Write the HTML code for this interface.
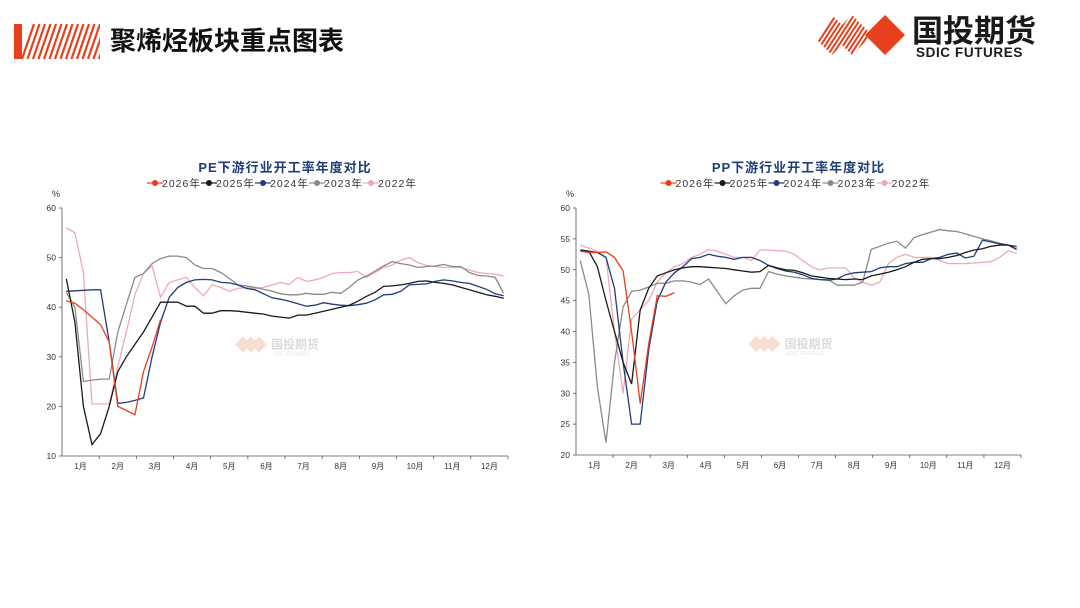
<!DOCTYPE html>
<html><head><meta charset="utf-8"><style>
body{margin:0;width:1080px;height:608px;background:#fff;overflow:hidden;font-family:"Liberation Sans","Noto Sans CJK SC",sans-serif}
svg{position:absolute;left:0;top:0}
</style></head><body>
<svg width="1080" height="608">
<defs>
<clipPath id="lc"><rect x="14" y="24" width="86" height="35"/></clipPath>
<clipPath id="dc"><polygon points="812,35 832,15 852,35 832,55"/><polygon points="832,35 852,15 872,35 852,55"/></clipPath>
</defs>
<g clip-path="url(#lc)">
<rect x="14" y="24" width="8" height="35" fill="#e8401c"/>
<g stroke="#e8401c" stroke-width="2.2" id="stripes"></g>
</g>
<text x="110" y="50" font-size="26" font-weight="bold" fill="#111" font-family="Liberation Sans,Noto Sans CJK SC,sans-serif">聚烯烃板块重点图表</text>
<g>
<g clip-path="url(#dc)" stroke="#e8401c" stroke-width="2" id="dstripes"></g>
<polygon points="885,15 905,35 885,55 865,35" fill="#e8401c"/>
<text x="912" y="42" font-size="31" font-weight="bold" fill="#1a1a1a" font-family="Liberation Sans,Noto Sans CJK SC,sans-serif">国投期货</text>
<text x="916" y="57" font-size="13.5" font-weight="bold" fill="#1a1a1a" letter-spacing="0.6">SDIC FUTURES</text>
</g>
<g id="c1"></g>
<g id="c2"></g>
</svg>
<script>
const NS='http://www.w3.org/2000/svg';
function mk(tag,attrs,parent){const e=document.createElementNS(NS,tag);for(const k in attrs)e.setAttribute(k,attrs[k]);parent.appendChild(e);return e;}
// stripes
const st=document.getElementById('stripes');
for(let i=0;i<16;i++){mk('line',{x1:22+i*5.5,y1:59,x2:34+i*5.5,y2:24},st);}
const ds=document.getElementById('dstripes');
for(let i=0;i<14;i++){mk('line',{x1:808+i*4.5,y1:58,x2:838+i*4.5,y2:12},ds);}

const months=['1月','2月','3月','4月','5月','6月','7月','8月','9月','10月','11月','12月'];
const seriesNames=['2026年','2025年','2024年','2023年','2022年'];
const seriesColors=['#e8401c','#1a1a1a','#1f3e7a','#8a8a8a','#f0a8b8'];
const peTicks=[10,20,30,40,50,60];
const ppTicks=[20,25,30,35,40,45,50,55,60];
const pe2026=[41.3,40.8,39.5,38,36.5,33,20,19.2,18.3,27,32,37.5];
const pe2025=[45.7,37,20,12.3,14.5,20,27,30,32.5,35,38,41,41,41,40.2,40.2,38.8,38.8,39.3,39.3,39.2,39,38.8,38.6,38.2,38,37.8,38.4,38.4,38.8,39.2,39.6,40,40.4,41.2,42.2,43,44.2,44.3,44.5,44.8,45.2,45.3,45,44.8,44.5,44,43.5,43,42.5,42.2,41.8];
const pe2024=[43.2,43.3,43.4,43.5,43.5,33,20.6,20.8,21.2,21.7,30,37,42,44,45,45.5,45.6,45.5,45,44.9,44.5,43.8,43.5,42.7,41.9,41.6,41.2,40.7,40.2,40.4,40.9,40.6,40.4,40.3,40.5,40.8,41.5,42.5,42.6,43.2,44.5,44.6,44.7,45.2,45.5,45.3,45,44.8,44.2,43.6,42.7,42.3];
const pe2023=[43,40,25,25.3,25.5,25.5,35,40.5,46,46.8,48.8,49.8,50.3,50.3,50,48.5,47.8,47.8,47,45.8,44.5,44.3,44,43.6,43.2,42.7,42.5,42.5,42.8,42.6,42.6,43,42.8,44,45.5,46.3,47.3,48.3,49.2,48.8,48.5,48,48.2,48.3,48.6,48.2,48.2,47,46.4,46.3,46,42.8];
const pe2022=[56,55,47,20.5,20.5,20.5,28,35,42.5,46.8,48.3,42,45,45.5,46,44,42.3,44.5,44,43.2,43.8,44,43.8,44,44.5,45,44.6,46,45.2,45.5,46,46.8,47,47,47.2,46,47,48,48.5,49.5,50,49,48.4,48.2,48,48,48,47.5,47,46.8,46.7,46.3];
const pp2026=[53,52.8,52.8,52.9,52,49.8,40,28.3,38,45.8,45.7,46.3];
const pp2025=[53.2,53,50.5,45,40,35,31.5,43.5,47,49,49.5,50,50.3,50.5,50.5,50.4,50.3,50.2,50,49.8,49.6,49.7,50.7,50.3,50,49.9,49.5,49,48.8,48.6,48.5,48.4,48.5,48.4,49,49.3,49.6,50,50.5,51.2,51.7,51.8,51.8,52,52.3,52.8,53.2,53.4,53.8,54,54,53.3];
const pp2024=[53.2,53,52.8,52,47,35,25,25,37,45,48,49.5,50.5,51.8,52,52.5,52.2,52,51.7,52,52,51.5,50.7,50.2,49.8,49.6,49.2,48.6,48.4,48.3,48.5,49.2,49.5,49.6,49.7,50.3,50.5,50.5,51,51.2,51.2,51.8,52,52.5,52.7,51.9,52.2,54.8,54.5,54.2,54,53.7];
const pp2023=[51.5,46,31,22,35,44,46.5,46.7,47.2,47.8,47.8,48.2,48.2,48,47.6,48.5,46.5,44.5,45.8,46.7,47,47,49.7,49.3,49,48.8,48.6,48.5,48.4,48.4,47.5,47.5,47.5,48,53.3,53.8,54.3,54.6,53.5,55.2,55.7,56.1,56.5,56.3,56.2,55.8,55.4,55,54.7,54.3,54,53.8];
const pp2022=[54,53.5,53,52,40,30,42,43.5,45,48,49.5,50.5,51,52,52.5,53.3,53,52.5,52,52,51.5,53.2,53.2,53.1,53,52.5,51.5,50.5,50,50.3,50.3,50.3,48.7,48,47.5,48,51,52,52.5,52,52,52,51.5,51,51,51,51.1,51.2,51.3,52,53.1,52.6];

function chart(gid,title,x0,x1,yTop,yBot,ticks,series){
  const g=document.getElementById(gid);
  const vmin=ticks[0],vmax=ticks[ticks.length-1];
  const sx=i=>x0+(i+0.5)*(x1-x0)/52;
  const sy=v=>yBot-(v-vmin)/(vmax-vmin)*(yBot-yTop);
  const cx=(x0+x1)/2;
  const t=mk('text',{x:cx,y:172,'text-anchor':'middle','font-size':13,'font-weight':'bold',fill:'#1f3e7a','letter-spacing':'1'},g);
  
  
  t.textContent=title;
  // legend
  let lx=cx-130;
  seriesNames.forEach((n,k)=>{
    const lg=mk('g',{},g);
    
    
    mk('line',{x1:lx-8,y1:183,x2:lx+8,y2:183,stroke:seriesColors[k],'stroke-width':1.2},lg);
    mk('circle',{cx:lx,cy:183,r:3,fill:seriesColors[k]},lg);
    const tt=mk('text',{x:lx+7,y:187,'font-size':10.5,fill:'#333','letter-spacing':'1'},lg);
    tt.textContent=n;
    lx+=54;
  });
  const u=mk('text',{x:x0-10,y:197,'font-size':9,fill:'#333'},g);
  
  
  u.textContent='%';
  const ax=mk('g',{},g);
  
  
  mk('line',{x1:x0,y1:yTop,x2:x0,y2:yBot,stroke:'#555','stroke-width':0.8},ax);
  mk('line',{x1:x0,y1:yBot,x2:x1,y2:yBot,stroke:'#555','stroke-width':0.8},ax);
  ticks.forEach(v=>{
    mk('line',{x1:x0-3,y1:sy(v),x2:x0,y2:sy(v),stroke:'#555','stroke-width':0.8},ax);
    const tl=mk('text',{x:x0-6,y:sy(v)+3,'text-anchor':'end','font-size':8.5,fill:'#333'},ax);
    
    
    tl.textContent=v;
  });
  const mw=(x1-x0)/12;
  months.forEach((m,i)=>{
    mk('line',{x1:x0+(i+1)*mw,y1:yBot,x2:x0+(i+1)*mw,y2:yBot+3,stroke:'#555','stroke-width':0.8},ax);
    const ml=mk('text',{x:x0+(i+0.5)*mw,y:yBot+13,'text-anchor':'middle','font-size':8,fill:'#333'},ax);
    
    
    ml.textContent=m;
  });
  // watermark
  const wm=mk('g',{opacity:0.35},g);
  
  
  const wx=cx-50,wy=sy(vmin+(vmax-vmin)*0.45);
  [0,8,16].forEach(d=>mk('polygon',{points:`${wx+d},${wy} ${wx+d+8},${wy-8} ${wx+d+16},${wy} ${wx+d+8},${wy+8}`,fill:'#f0a080'},wm));
  const wt=mk('text',{x:wx+36,y:wy+4,'font-size':12,'font-weight':'bold',fill:'#999'},wm);
  wt.textContent='国投期货';
  const wt2=mk('text',{x:wx+38,y:wy+11,'font-size':5,fill:'#aaa'},wm);
  wt2.textContent='SDIC FUTURES';
  // series draw order: 2022,2023,2024,2025,2026
  [4,3,2,1,0].forEach(k=>{
    const d=series[k].map((v,i)=>(i?'L':'M')+sx(i).toFixed(1)+','+sy(v).toFixed(1)).join('');
    const p=mk('path',{d:d,fill:'none',stroke:seriesColors[k],'stroke-width':1.3},g);
    
    
  });
}
chart('c1','PE下游行业开工率年度对比',62,508,208,456,peTicks,[pe2026,pe2025,pe2024,pe2023,pe2022]);
chart('c2','PP下游行业开工率年度对比',576,1021,208,455,ppTicks,[pp2026,pp2025,pp2024,pp2023,pp2022]);
</script>
</body></html>
